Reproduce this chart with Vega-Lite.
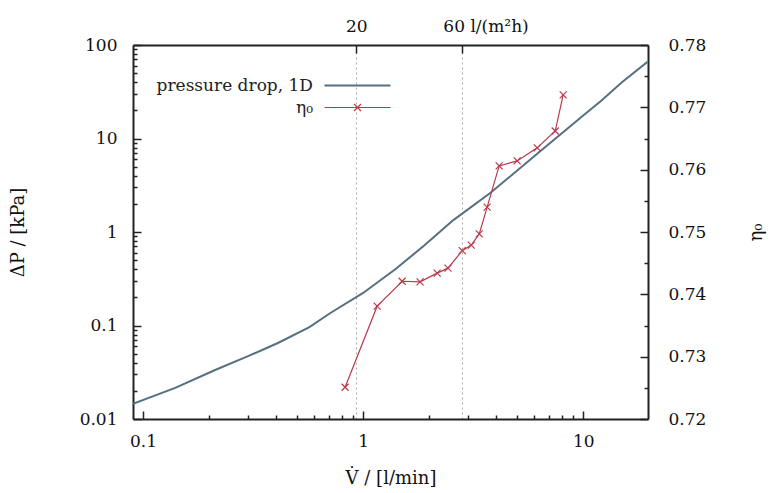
{
  "$schema": "https://vega.github.io/schema/vega-lite/v6.json",
  "autosize": {"type": "none"},
  "width": 515,
  "height": 374,
  "padding": {"left": 133, "top": 45, "right": 123, "bottom": 74},
  "background": "white",
  "config": {
    "view": {"stroke": null},
    "axis": {
      "labelFont": "DejaVu Serif",
      "labelFontSize": 17,
      "labelColor": "#111",
      "titleFont": "DejaVu Serif",
      "titleFontSize": 18,
      "titleFontWeight": "normal",
      "titleColor": "#111",
      "domainColor": "#222",
      "domainWidth": 2,
      "ticks": true,
      "tickColor": "#222",
      "tickWidth": 1.5,
      "grid": false,
      "labelFlush": false,
      "labelOverlap": false,
      "labelBound": false
    }
  },
  "datasets": {
    "pd": [
      {"V": 0.09, "dP": 0.0145, "series": "pressure drop, 1D"},
      {"V": 0.14, "dP": 0.0215, "series": "pressure drop, 1D"},
      {"V": 0.21, "dP": 0.033, "series": "pressure drop, 1D"},
      {"V": 0.30, "dP": 0.047, "series": "pressure drop, 1D"},
      {"V": 0.41, "dP": 0.065, "series": "pressure drop, 1D"},
      {"V": 0.57, "dP": 0.096, "series": "pressure drop, 1D"},
      {"V": 0.71, "dP": 0.136, "series": "pressure drop, 1D"},
      {"V": 1.0, "dP": 0.223, "series": "pressure drop, 1D"},
      {"V": 1.4, "dP": 0.40, "series": "pressure drop, 1D"},
      {"V": 1.9, "dP": 0.72, "series": "pressure drop, 1D"},
      {"V": 2.57, "dP": 1.34, "series": "pressure drop, 1D"},
      {"V": 3.78, "dP": 2.61, "series": "pressure drop, 1D"},
      {"V": 6.2, "dP": 6.9, "series": "pressure drop, 1D"},
      {"V": 10.0, "dP": 17.6, "series": "pressure drop, 1D"},
      {"V": 12.0, "dP": 25.0, "series": "pressure drop, 1D"},
      {"V": 15.0, "dP": 40.0, "series": "pressure drop, 1D"},
      {"V": 19.6, "dP": 66.0, "series": "pressure drop, 1D"}
    ],
    "eta": [
      {"V": 0.828, "eta": 0.7251, "series": "η₀"},
      {"V": 1.158, "eta": 0.7381, "series": "η₀"},
      {"V": 1.504, "eta": 0.7421, "series": "η₀"},
      {"V": 1.815, "eta": 0.7420, "series": "η₀"},
      {"V": 2.17, "eta": 0.7434, "series": "η₀"},
      {"V": 2.43, "eta": 0.7442, "series": "η₀"},
      {"V": 2.82, "eta": 0.7470, "series": "η₀"},
      {"V": 3.10, "eta": 0.7479, "series": "η₀"},
      {"V": 3.37, "eta": 0.7497, "series": "η₀"},
      {"V": 3.66, "eta": 0.7540, "series": "η₀"},
      {"V": 4.15, "eta": 0.7606, "series": "η₀"},
      {"V": 5.01, "eta": 0.7614, "series": "η₀"},
      {"V": 6.18, "eta": 0.7635, "series": "η₀"},
      {"V": 7.46, "eta": 0.7662, "series": "η₀"},
      {"V": 8.11, "eta": 0.7720, "series": "η₀"}
    ]
  },
  "layer": [
    {
      "data": {"name": "pd"},
      "layer": [
        {
          "mark": {"type": "line", "strokeWidth": 2, "clip": true},
          "encoding": {
            "x": {
              "field": "V", "type": "quantitative",
              "scale": {"type": "log", "domain": [0.09, 19.7], "nice": false},
              "axis": {
                "orient": "bottom",
                "title": "V̇ / [l/min]",
                "titlePadding": 20,
                "values": [0.1, 1, 10],
                "labelExpr": "datum.value == 0.1 ? '0.1' : datum.value == 1 ? '1' : '10'",
                "tickSize": -8,
                "labelPadding": 22
              }
            },
            "y": {
              "field": "dP", "type": "quantitative",
              "scale": {"type": "log", "domain": [0.01, 100], "nice": false},
              "axis": {
                "orient": "left",
                "title": "ΔP / [kPa]",
                "titlePadding": 52,
                "values": [0.01, 0.1, 1, 10, 100],
                "labelExpr": "datum.value == 0.01 ? '0.01' : datum.value == 0.1 ? '0.1' : datum.value == 1 ? '1' : datum.value == 10 ? '10' : '100'",
                "tickSize": -8,
                "labelPadding": 24
              }
            },
            "color": {
              "field": "series", "type": "nominal",
              "scale": {"domain": ["pressure drop, 1D", "η₀"], "range": ["#55707f", "#b83a4b"]},
              "legend": {
                "title": null,
                "orient": "none",
                "legendX": 216,
                "legendY": 32,
                "padding": 0,
                "labelFont": "DejaVu Serif",
                "labelFontSize": 17,
                "labelColor": "#222",
                "labelAlign": "right",
                "labelOffset": -53,
                "labelLimit": 400,
                "rowPadding": 4,
                "symbolSize": 100,
                "symbolOffset": 0,
                "encode": {
                  "symbols": {
                    "update": {
                      "shape": {"signal": "datum.value === 'η₀' ? 'M-6.6,0H6.6M-0.7,-0.7L0.7,0.7M-0.7,0.7L0.7,-0.7' : 'M-6.6,0H6.6'"},
                      "fill": {"value": "transparent"},
                      "strokeWidth": {"signal": "datum.value === 'η₀' ? 1.2 : 2"}
                    }
                  }
                }
              }
            }
          }
        },
        {
          "mark": {"type": "line", "opacity": 0},
          "encoding": {
            "x": {
              "field": "V", "type": "quantitative",
              "scale": {"type": "log", "domain": [0.09, 19.7], "nice": false},
              "axis": {
                "orient": "bottom",
                "title": null,
                "domain": false,
                "labels": false,
                "values": [0.2, 0.3, 0.4, 0.5, 0.6, 0.7, 0.8, 0.9, 2, 3, 4, 5, 6, 7, 8, 9],
                "tickSize": -4
              }
            },
            "y": {
              "field": "dP", "type": "quantitative",
              "scale": {"type": "log", "domain": [0.01, 100], "nice": false},
              "axis": {
                "orient": "left",
                "title": null,
                "domain": false,
                "labels": false,
                "values": [0.02, 0.03, 0.04, 0.05, 0.06, 0.07, 0.08, 0.09, 0.2, 0.3, 0.4, 0.5, 0.6, 0.7, 0.8, 0.9, 2, 3, 4, 5, 6, 7, 8, 9, 20, 30, 40, 50, 60, 70, 80, 90],
                "tickSize": -4
              }
            }
          }
        }
      ],
      "resolve": {"axis": {"x": "independent", "y": "independent"}}
    },
    {
      "data": {"name": "eta"},
      "layer": [
        {
          "mark": {
            "type": "line", "strokeWidth": 1.2,
            "point": {"shape": "M-1,-1L1,1M-1,1L1,-1", "filled": false, "size": 49, "strokeWidth": 1.2}
          },
          "encoding": {
            "x": {
              "field": "V", "type": "quantitative",
              "scale": {"type": "log", "domain": [0.09, 19.7], "nice": false},
              "axis": {
                "orient": "top",
                "title": null,
                "values": [0.93, 2.8],
                "labelExpr": "datum.value < 1.5 ? '20' : '60 l/(m²h)'",
                "grid": true,
                "gridDash": [2, 3],
                "gridColor": "#aaaaaa",
                "gridWidth": 1,
                "tickSize": -8,
                "labelPadding": 18,
                "labelOffset": {"condition": {"test": "datum.value > 1.5", "value": 24}, "value": 0}
              }
            },
            "y": {
              "field": "eta", "type": "quantitative",
              "scale": {"domain": [0.72, 0.78], "nice": false, "zero": false},
              "axis": {
                "orient": "right",
                "title": "η₀",
                "titleAngle": 270,
                "titlePadding": 60,
                "values": [0.72, 0.73, 0.74, 0.75, 0.76, 0.77, 0.78],
                "format": ".2f",
                "tickSize": -8,
                "labelPadding": 28
              }
            },
            "color": {
              "field": "series", "type": "nominal",
              "scale": {"domain": ["pressure drop, 1D", "η₀"], "range": ["#55707f", "#b83a4b"]}
            }
          }
        },
        {
          "mark": {"type": "line", "opacity": 0},
          "encoding": {
            "x": {
              "field": "V", "type": "quantitative",
              "scale": {"type": "log", "domain": [0.09, 19.7], "nice": false},
              "axis": null
            },
            "y": {
              "field": "eta", "type": "quantitative",
              "scale": {"domain": [0.72, 0.78], "nice": false, "zero": false},
              "axis": {
                "orient": "right",
                "title": null,
                "domain": false,
                "labels": false,
                "values": [0.725, 0.735, 0.745, 0.755, 0.765, 0.775],
                "tickSize": -4
              }
            }
          }
        }
      ],
      "resolve": {"axis": {"x": "independent", "y": "independent"}}
    }
  ],
  "resolve": {"scale": {"y": "independent"}, "axis": {"x": "independent", "y": "independent"}}
}
